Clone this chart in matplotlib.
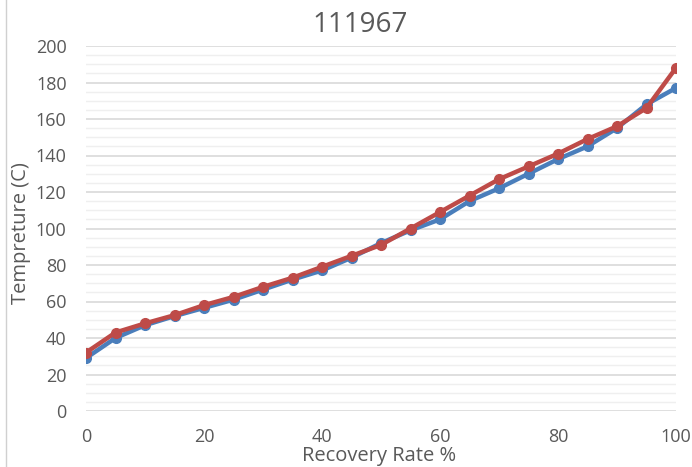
import matplotlib
matplotlib.use("Agg")
import matplotlib.pyplot as plt
from matplotlib.ticker import MultipleLocator
from matplotlib.lines import Line2D

recovery = [0, 5, 10, 15, 20, 25, 30, 35, 40, 45, 50, 55, 60, 65, 70, 75, 80, 85, 90, 95, 100]
temp_blue = [29, 40, 47, 52, 56.5, 61, 66.5, 72, 77, 84, 92, 99, 105, 115, 122, 130, 138, 145, 155, 168, 177]
temp_red = [32, 43, 48, 52.5, 58, 62.5, 68, 73, 79, 85, 91, 100, 109, 118, 127, 134, 141, 149, 156, 166, 188]

title = "111967"
x_label = "Recovery Rate %"
y_label = "Tempreture (C)"

plt.rcParams['font.family'] = ['Open Sans', 'DejaVu Sans']
text_gray = "#595959"

W, H = 692, 467
fig = plt.figure(figsize=(W / 100, H / 100), dpi=100)
ax = fig.add_axes([86 / W, 1 - 411 / H, 590 / W, 365 / H])

ax.plot(recovery, temp_blue, color="#4A7EBB", lw=3.2, marker="o", ms=7, zorder=3)
ax.plot(recovery, temp_red, color="#BE4B48", lw=3.2, marker="o", ms=7, zorder=4)

ax.set_xlim(0, 100)
ax.set_ylim(0, 200)
ax.xaxis.set_major_locator(MultipleLocator(20))
ax.yaxis.set_major_locator(MultipleLocator(20))
ax.yaxis.set_minor_locator(MultipleLocator(5))

ax.grid(axis="y", which="major", color="#D9D9D9", lw=1.2, zorder=0)
ax.grid(axis="y", which="minor", color="#EFEFEF", lw=1.0, zorder=0)
ax.set_axisbelow(True)
for s in ax.spines.values():
    s.set_visible(False)

ax.tick_params(axis="both", which="both", length=0, labelsize=13, labelcolor=text_gray)
ax.tick_params(axis="x", pad=12)
ax.tick_params(axis="y", pad=14)

fig.text(360 / W, 1 - 25 / H, title, fontsize=20, color=text_gray, ha="center", va="center")
fig.text(379 / W, 1 - 456 / H, x_label, fontsize=14.5, color=text_gray, ha="center", va="center")
fig.text(21 / W, 1 - 233 / H, y_label, fontsize=14.5, color=text_gray, ha="center", va="center",
         rotation=90)

# thin chart-area border on the left edge
fig.add_artist(Line2D([0.008, 0.008], [0, 1], transform=fig.transFigure, color="#D0D0D0", lw=1))

fig.savefig("out.png", dpi=100)
